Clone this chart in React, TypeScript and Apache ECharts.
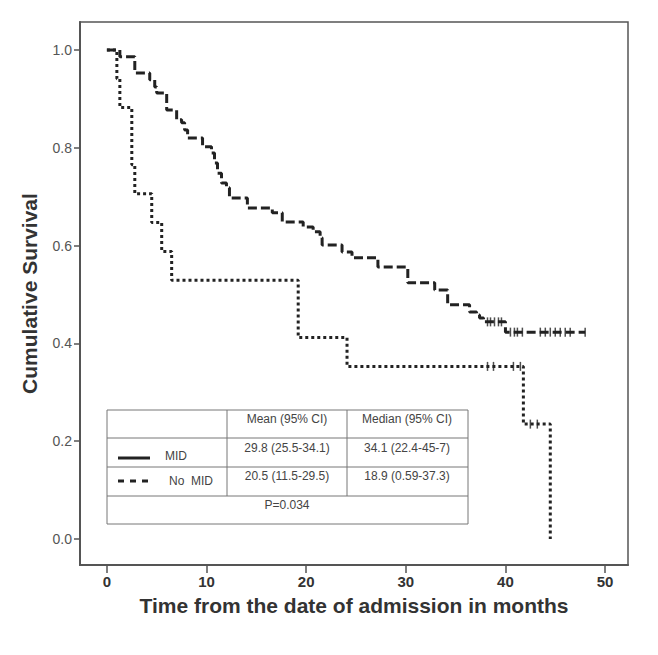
import React, { useEffect, useRef } from "react";
import * as echarts from "echarts";

// Tick labels
const xTicks = [0, 10, 20, 30, 40, 50];
const yTicks = [0, 0.2, 0.4, 0.6, 0.8, 1.0];

// MID group: event times and survival after each step
const midTimes = [0, 1.3, 2.8, 4.3, 4.8, 5.0, 6.0, 7.0, 7.5, 7.8, 8.1, 9.6, 10.5, 10.8, 11.1, 11.5, 12.0, 12.3, 14.1, 16.6, 17.6, 19.7, 20.7, 21.4, 21.6, 23.6, 24.6, 27.2, 30.2, 32.9, 34.2, 36.4, 37.1, 37.4, 37.8, 40.0, 48.0];
const midSurv = [1.0, 0.986, 0.953, 0.939, 0.924, 0.912, 0.877, 0.857, 0.851, 0.836, 0.82, 0.802, 0.789, 0.769, 0.748, 0.728, 0.718, 0.697, 0.677, 0.667, 0.648, 0.638, 0.628, 0.616, 0.601, 0.587, 0.575, 0.556, 0.524, 0.509, 0.479, 0.464, 0.458, 0.452, 0.444, 0.423, 0.423];
const midCensor = [38.2, 38.5, 38.9, 39.3, 39.6, 40.5, 40.9, 41.2, 41.7, 43.5, 44.0, 44.5, 45.0, 45.5, 46.0, 46.5, 48.0];

// No MID group
const noMidTimes = [0, 1.0, 1.3, 2.5, 2.8, 4.5, 5.5, 6.5, 19.2, 24.1, 41.8, 44.5];
const noMidSurv = [1.0, 0.941, 0.882, 0.765, 0.706, 0.647, 0.588, 0.529, 0.412, 0.353, 0.235, 0.0];
const noMidCensor = [38.2, 38.8, 40.8, 41.5, 42.5, 43.2];

const levelAt = (times: number[], surv: number[], t: number) => {
  let v = surv[0];
  for (let i = 0; i < times.length; i++) if (times[i] <= t) v = surv[i];
  return v;
};

const FONT = "'Liberation Sans', Arial, sans-serif";

export default function App() {
  const ref = useRef<HTMLDivElement>(null);
  useEffect(() => {
    const chart = echarts.init(ref.current!, undefined, { renderer: "svg" });
    const midData = midTimes.map((t, i) => [t, midSurv[i]]);
    const noMidData = noMidTimes.map((t, i) => [t, noMidSurv[i]]);
    const midC = midCensor.map((t) => [t, levelAt(midTimes, midSurv, t)]);
    const noMidC = noMidCensor.map((t) => [t, levelAt(noMidTimes, noMidSurv, t)]);

    const txt = (x: number, y: number, s: string, align = "center") => ({
      type: "text",
      x,
      y,
      style: { text: s, font: `12px ${FONT}`, fill: "#444", align, verticalAlign: "middle" },
    });
    const ln = (x1: number, y1: number, x2: number, y2: number) => ({
      type: "line",
      shape: { x1, y1, x2, y2 },
      style: { stroke: "#777", lineWidth: 1 },
    });

    chart.setOption({
      animation: false,
      backgroundColor: "#fff",
      grid: {
        left: 80,
        top: 22,
        width: 548,
        height: 543,
        show: true,
        borderColor: "#555",
        borderWidth: 1.5,
        backgroundColor: "#fff",
      },
      xAxis: {
        type: "value",
        min: -2.7,
        max: 52.3,
        name: "Time from the date of admission in months",
        nameLocation: "middle",
        nameGap: 30,
        nameMoveOverlap: false,
        nameTextStyle: { fontFamily: FONT, fontSize: 21, fontWeight: "bold", color: "#333" },
        splitLine: { show: false },
        axisLine: { show: true, onZero: false, lineStyle: { color: "#555", width: 2 } },
        axisTick: { show: true, length: 8, customValues: xTicks, lineStyle: { color: "#555", width: 1.5 } },
        axisLabel: {
          customValues: xTicks,
          fontFamily: FONT,
          fontSize: 15,
          fontWeight: "bold",
          color: "#333",
          margin: 9,
        },
      },
      yAxis: {
        type: "value",
        min: -0.053,
        max: 1.057,
        name: "Cumulative Survival",
        nameLocation: "middle",
        nameGap: 40,
        nameTextStyle: { fontFamily: FONT, fontSize: 21, fontWeight: "bold", color: "#333" },
        splitLine: { show: false },
        axisLine: { show: true, onZero: false, lineStyle: { color: "#555", width: 2 } },
        axisTick: { show: true, length: 6, customValues: yTicks, lineStyle: { color: "#555", width: 1.5 } },
        axisLabel: {
          customValues: yTicks,
          formatter: (v: number) => v.toFixed(1),
          fontFamily: FONT,
          fontSize: 14,
          color: "#555",
          margin: 8,
        },
      },
      series: [
        {
          name: "MID",
          type: "line",
          step: "end",
          showSymbol: false,
          data: midData,
          lineStyle: { color: "#222", width: 3, type: [9, 4] },
          z: 3,
        },
        {
          name: "No MID",
          type: "line",
          step: "end",
          showSymbol: false,
          data: noMidData,
          lineStyle: { color: "#222", width: 3, type: [3, 3] },
          z: 2,
        },
        {
          name: "MID censored",
          type: "scatter",
          data: midC,
          symbol: "rect",
          symbolSize: [1.5, 9],
          itemStyle: { color: "#222" },
          z: 4,
        },
        {
          name: "No MID censored",
          type: "scatter",
          data: noMidC,
          symbol: "rect",
          symbolSize: [1.5, 9],
          itemStyle: { color: "#222" },
          z: 4,
        },
      ],
      graphic: [
        {
          type: "rect",
          shape: { x: 107, y: 410, width: 361, height: 114 },
          style: { fill: "#fff", stroke: "#777", lineWidth: 1 },
          z: 10,
        },
        { ...ln(107, 438, 468, 438), z: 11 },
        { ...ln(107, 467, 468, 467), z: 11 },
        { ...ln(107, 496, 468, 496), z: 11 },
        { ...ln(227, 410, 227, 496), z: 11 },
        { ...ln(347, 410, 347, 496), z: 11 },
        {
          type: "line",
          shape: { x1: 118, y1: 458, x2: 150, y2: 458 },
          style: { stroke: "#222", lineWidth: 3 },
          z: 11,
        },
        {
          type: "line",
          shape: { x1: 118, y1: 481, x2: 150, y2: 481 },
          style: { stroke: "#222", lineWidth: 3, lineDash: [6, 6] },
          z: 11,
        },
        { ...txt(287, 419, "Mean (95% CI)"), z: 11 },
        { ...txt(407, 419, "Median (95% CI)"), z: 11 },
        { ...txt(287, 448, "29.8 (25.5-34.1)"), z: 11 },
        { ...txt(407, 448, "34.1 (22.4-45-7)"), z: 11 },
        { ...txt(165, 456, "MID", "left"), z: 11 },
        { ...txt(287, 476, "20.5 (11.5-29.5)"), z: 11 },
        { ...txt(407, 476, "18.9 (0.59-37.3)"), z: 11 },
        { ...txt(169, 481, "No  MID", "left"), z: 11 },
        { ...txt(287, 505, "P=0.034"), z: 11 },
      ],
    });
    return () => chart.dispose();
  }, []);
  return <div ref={ref} style={{ width: 658, height: 655, position: "absolute", left: 0, top: 0 }} />;
}
